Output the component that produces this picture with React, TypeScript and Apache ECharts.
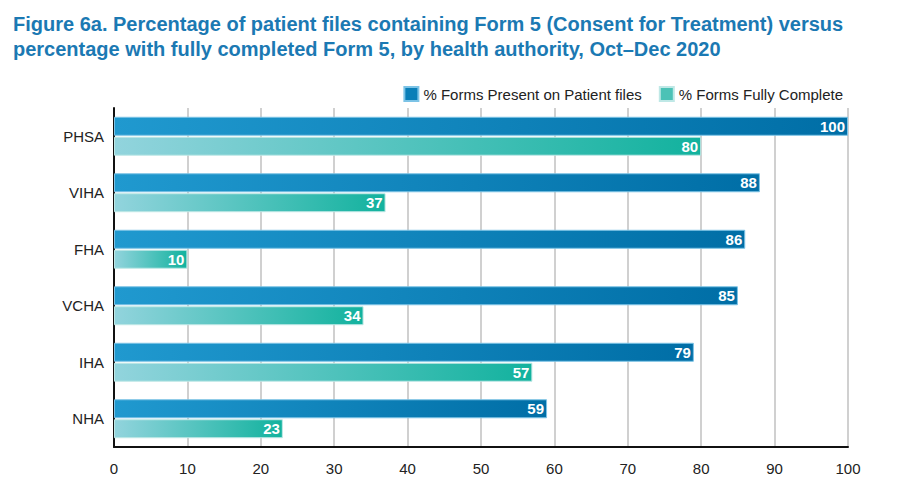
import React, { useEffect, useRef } from "react";
import * as echarts from "echarts";

const categories = ["PHSA", "VIHA", "FHA", "VCHA", "IHA", "NHA"];
const presentValues = [100, 88, 86, 85, 79, 59];
const completeValues = [80, 37, 10, 34, 57, 23];
const seriesNames = ["% Forms Present on Patient files", "% Forms Fully Complete"];
const titleLines = [
  "Figure 6a. Percentage of patient files containing Form 5 (Consent for Treatment) versus",
  "percentage with fully completed Form 5, by health authority, Oct\u2013Dec 2020",
];

const FONT = "'Liberation Sans', Arial, sans-serif";

export default function App() {
  const ref = useRef<HTMLDivElement>(null);
  useEffect(() => {
    document.body.style.margin = "0";
    if (!ref.current) return;
    const chart = echarts.init(ref.current, undefined, { renderer: "svg" });
    const blueGrad = new echarts.graphic.LinearGradient(0, 0, 1, 0, [
      { offset: 0, color: "#2099cf" },
      { offset: 1, color: "#006ea6" },
    ]);
    const tealGrad = new echarts.graphic.LinearGradient(0, 0, 1, 0, [
      { offset: 0, color: "#92d4dd" },
      { offset: 1, color: "#12b29e" },
    ]);
    const labelStyle = {
      show: true,
      position: "insideRight" as const,
      distance: 3,
      color: "#ffffff",
      fontWeight: "bold" as const,
      fontSize: 15,
      fontFamily: FONT,
    };
    chart.setOption({
      animation: false,
      title: {
        text: titleLines.join("\n"),
        left: 8,
        top: 6,
        textStyle: {
          color: "#1b79b3",
          fontSize: 20,
          fontWeight: "bold",
          fontFamily: FONT,
          lineHeight: 25,
        },
      },
      legend: {
        right: 54,
        top: 81,
        itemWidth: 14,
        itemHeight: 14,
        itemGap: 17,
        icon: "rect",
        textStyle: { fontSize: 15, color: "#222", fontFamily: FONT },
        data: [
          { name: seriesNames[0], itemStyle: { color: "#0a7fb8" } },
          { name: seriesNames[1], itemStyle: { color: "#4cc2b6" } },
        ],
      },
      grid: { left: 114, right: 54, top: 108, bottom: 52, containLabel: false },
      xAxis: {
        type: "value",
        min: 0,
        max: 100,
        interval: 10,
        axisLine: { show: true, lineStyle: { color: "#111", width: 2 } },
        axisTick: { show: false },
        axisLabel: { fontSize: 15, color: "#222", fontFamily: FONT, margin: 14 },
        splitLine: { show: true, lineStyle: { color: "#d0d0d0", width: 2 } },
      },
      yAxis: {
        type: "category",
        inverse: true,
        data: categories,
        axisLine: { show: true, lineStyle: { color: "#111", width: 2 } },
        axisTick: { show: false },
        axisLabel: { fontSize: 15, color: "#222", fontFamily: FONT, margin: 10 },
      },
      series: [
        {
          name: seriesNames[0],
          type: "bar",
          data: presentValues,
          barWidth: 19,
          barGap: "5%",
          barCategoryGap: "30%",
          itemStyle: { color: blueGrad, borderColor: "#7cc3e6", borderWidth: 1 },
          label: labelStyle,
        },
        {
          name: seriesNames[1],
          type: "bar",
          data: completeValues,
          barWidth: 19,
          barGap: "5%",
          itemStyle: { color: tealGrad, borderColor: "#bfe8e6", borderWidth: 1 },
          label: labelStyle,
        },
      ],
    });
    return () => chart.dispose();
  }, []);
  return <div ref={ref} style={{ width: 902, height: 499 }} />;
}
